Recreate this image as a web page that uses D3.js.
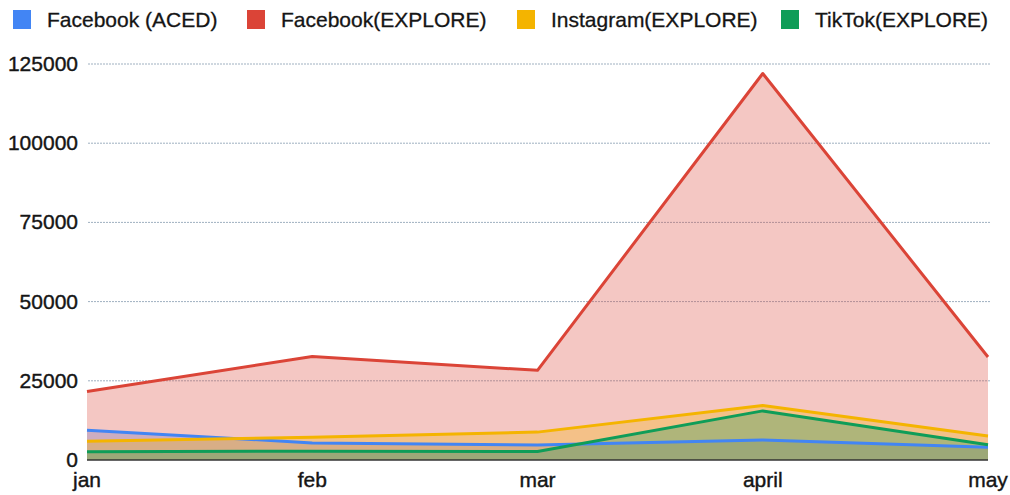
<!DOCTYPE html>
<html><head><meta charset="utf-8">
<script src="https://cdn.jsdelivr.net/npm/d3@7"></script>
<style>body{margin:0;background:#fff;} text{font-family:"Liberation Sans",Arial,sans-serif;}</style>
</head><body><svg id="c" width="1010" height="495"></svg>
<script>
const months = ["jan","feb","mar","april","may"];
const seriesNames = ["Facebook (ACED)","Facebook(EXPLORE)","Instagram(EXPLORE)","TikTok(EXPLORE)"];
const colors = ["#4285F4","#DB4437","#F4B400","#0F9D58"];
const facebookAced = [9400, 5400, 4700, 6300, 4000];
const facebookExplore = [21600, 32700, 28300, 122000, 32500];
const instagramExplore = [5900, 7200, 8800, 17200, 7600];
const tiktokExplore = [2600, 2800, 2700, 15500, 4800];
const yTicks = [0, 25000, 50000, 75000, 100000, 125000];
const allSeries = [facebookAced, facebookExplore, instagramExplore, tiktokExplore];

const svg = d3.select("#c");
const x = d3.scalePoint().domain(months).range([87, 988]);
const y = d3.scaleLinear().domain([0, 125000]).range([460, 64]);

// gridlines
svg.append("g").selectAll("line").data(yTicks.filter(d=>d>0)).join("line")
  .attr("x1", 88).attr("x2", 990).attr("y1", d=>y(d)).attr("y2", d=>y(d))
  .attr("stroke", "#9fb0c0").attr("stroke-width", 1).attr("stroke-dasharray","2,1");

// y labels
svg.append("g").selectAll("text").data(yTicks).join("text")
  .attr("x", 78).attr("y", d=>y(d)+7).attr("text-anchor","end")
  .attr("font-size", 21).attr("fill","#151515").attr("stroke","#151515").attr("stroke-width",0.4)
  .text(d=>d);

// x labels
svg.append("g").selectAll("text").data(months).join("text")
  .attr("x", d=>x(d)).attr("y", 487).attr("text-anchor","middle")
  .attr("font-size", 21).attr("fill","#151515").attr("stroke","#151515").attr("stroke-width",0.4)
  .text(d=>d);

const area = d3.area().x((d,i)=>x(months[i])).y0(y(0)).y1(d=>y(d));
const line = d3.line().x((d,i)=>x(months[i])).y(d=>y(d));

allSeries.forEach((s,k)=>{
  svg.append("path").datum(s).attr("d", area).attr("fill", colors[k]).attr("fill-opacity", 0.3);
});
allSeries.forEach((s,k)=>{
  svg.append("path").datum(s).attr("d", line).attr("fill","none").attr("stroke", colors[k])
    .attr("stroke-width", 3).attr("stroke-linejoin","round");
});

// baseline
svg.append("line").attr("x1", 87).attr("x2", 988).attr("y1", y(0)).attr("y2", y(0))
  .attr("stroke", "#333").attr("stroke-width", 1.5);

// legend
const legX = [13, 247, 517, 781];
const lg = svg.append("g").selectAll("g").data(seriesNames).join("g")
  .attr("transform", (d,i)=>`translate(${legX[i]},10)`);
lg.append("rect").attr("width", 18).attr("height", 19).attr("fill", (d,i)=>colors[i]);
lg.append("text").attr("x", 34).attr("y", 17).attr("font-size", 21)
  .attr("fill","#151515").attr("stroke","#151515").attr("stroke-width",0.3).text(d=>d);
</script></body></html>
